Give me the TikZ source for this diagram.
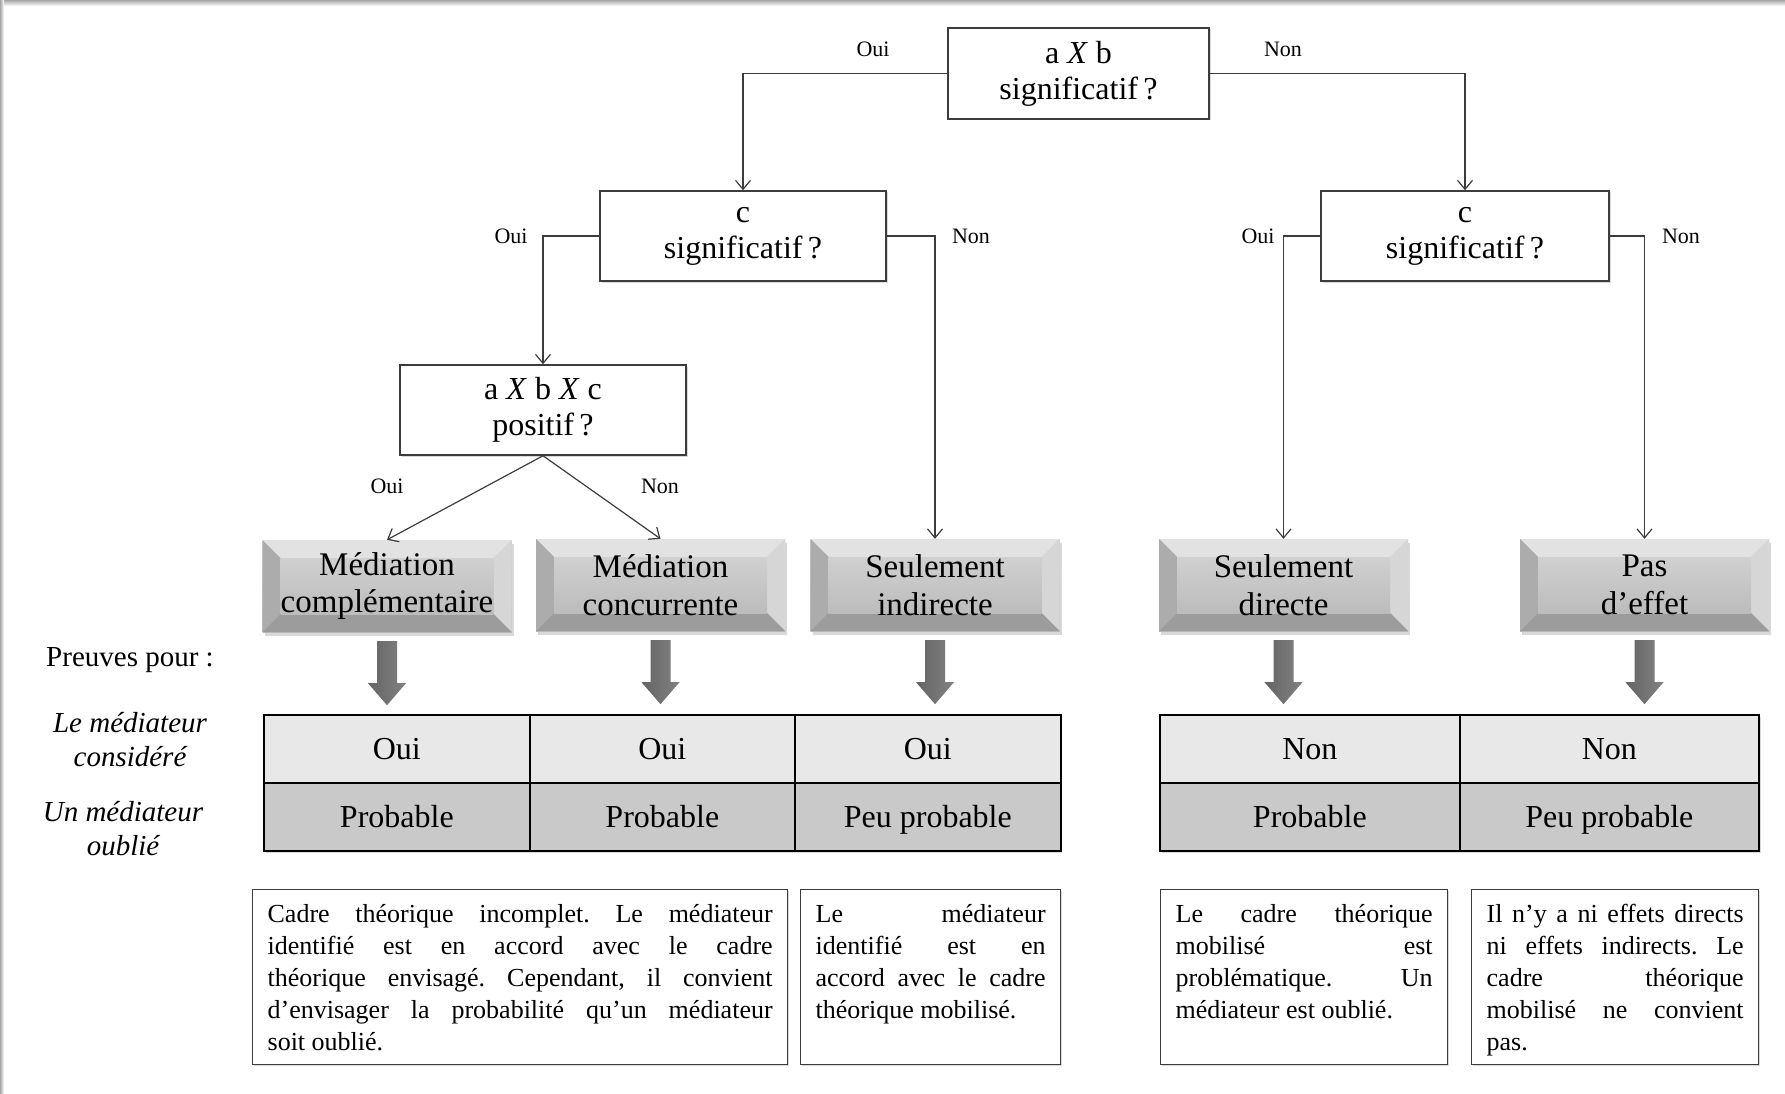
\documentclass[tikz,border=0pt]{standalone}
\usepackage{fontspec}
\setmainfont{Liberation Serif}
\usepackage{tikz}
\usetikzlibrary{arrows.meta,shadows}
\frenchspacing
\newlength{\questionwidth}
\newlength{\questionheight}
\newlength{\outcomewidth}
\newlength{\outcomeheight}
\newlength{\bevelsize}
\newlength{\cellwidth}
\newlength{\cellwidthwide}
\newlength{\cellheight}
\newlength{\noteheight}
\setlength{\questionwidth}{286pt}
\setlength{\questionheight}{90pt}
\setlength{\outcomewidth}{249pt}
\setlength{\outcomeheight}{92pt}
\setlength{\bevelsize}{18pt}
\setlength{\cellwidth}{265.5pt}
\setlength{\cellwidthwide}{299.5pt}
\setlength{\cellheight}{68pt}
\setlength{\noteheight}{145pt}
\definecolor{edgecolor}{RGB}{60,60,60}
\definecolor{facetop}{RGB}{208,208,208}
\definecolor{facebottom}{RGB}{188,188,188}
\definecolor{beveltop}{RGB}{226,226,226}
\definecolor{bevelleft}{RGB}{172,172,172}
\definecolor{bevelright}{RGB}{214,214,214}
\definecolor{bevelbottom}{RGB}{156,156,156}
\definecolor{arrowdark}{RGB}{100,100,100}
\definecolor{arrowmid}{RGB}{165,165,165}
\definecolor{arrowlight}{RGB}{130,130,130}
\definecolor{rowone}{RGB}{232,232,232}
\definecolor{rowtwo}{RGB}{201,201,201}
\newcommand{\questionfont}{\fontsize{32}{36}\selectfont}
\newcommand{\outcomefont}{\fontsize{33}{37.5}\selectfont}
\newcommand{\cellfont}{\fontsize{32}{36}\selectfont}
\newcommand{\yesnofont}{\fontsize{22}{26}\selectfont}
\newcommand{\sidefont}{\fontsize{29}{34}\selectfont}
\newcommand{\notefont}{\fontsize{26}{31.9}\selectfont}
\newcommand{\notetext}[2]{%
	\parbox[t][\noteheight][t]{#1}{\tolerance=10000\hbadness=10000\hyphenpenalty=10000 #2}%
}
\newcommand{\fatarrow}[1]{
	\shade[left color=arrowdark, middle color=arrowmid, right color=arrowlight] ([shift={(-10pt,-9pt)}]#1.south) -- ++(20pt,0pt) -- ++(0pt,-42pt) -- ++(9pt,0pt) -- ++(-19pt,-22pt) -- ++(-19pt,22pt) -- ++(9pt,0pt) -- cycle;
}
\tikzstyle{question} = [draw=edgecolor, line width=1.5pt, fill=white, minimum width=\questionwidth, minimum height=\questionheight, inner sep=0, align=center, font=\questionfont, drop shadow={shadow xshift=1.5pt, shadow yshift=-1.5pt, opacity=.3}]
\tikzstyle{outcome} = [minimum width=\outcomewidth, minimum height=\outcomeheight, inner sep=0, align=center, font=\outcomefont, top color=facetop, bottom color=facebottom, drop shadow={shadow xshift=2pt, shadow yshift=-4pt, opacity=.3},
	path picture={
		\fill[beveltop] (path picture bounding box.north west) -- (path picture bounding box.north east) -- ([shift={(-\bevelsize,-\bevelsize)}]path picture bounding box.north east) -- ([shift={(\bevelsize,-\bevelsize)}]path picture bounding box.north west) -- cycle;
		\fill[bevelleft] (path picture bounding box.north west) -- ([shift={(\bevelsize,-\bevelsize)}]path picture bounding box.north west) -- ([shift={(\bevelsize,\bevelsize)}]path picture bounding box.south west) -- (path picture bounding box.south west) -- cycle;
		\fill[bevelright] (path picture bounding box.north east) -- ([shift={(-\bevelsize,-\bevelsize)}]path picture bounding box.north east) -- ([shift={(-\bevelsize,\bevelsize)}]path picture bounding box.south east) -- (path picture bounding box.south east) -- cycle;
		\fill[bevelbottom] (path picture bounding box.south west) -- ([shift={(\bevelsize,\bevelsize)}]path picture bounding box.south west) -- ([shift={(-\bevelsize,\bevelsize)}]path picture bounding box.south east) -- (path picture bounding box.south east) -- cycle;
		\shade[top color=facetop, bottom color=facebottom] ([shift={(\bevelsize,-\bevelsize)}]path picture bounding box.north west) rectangle ([shift={(-\bevelsize,\bevelsize)}]path picture bounding box.south east);
	}]
\tikzstyle{connector} = [draw=edgecolor, line width=1.2pt, -{Straight Barb[length=9pt,width=15pt]}]
\tikzstyle{yesno} = [font=\yesnofont, inner sep=0]
\tikzstyle{cell} = [draw=black, line width=2.2pt, minimum height=\cellheight, text height=25pt, text depth=5pt, inner sep=0, anchor=north west, font=\cellfont, drop shadow={shadow xshift=1.5pt, shadow yshift=-1.5pt, opacity=.3}]
\tikzstyle{cellone} = [cell, fill=rowone]
\tikzstyle{celltwo} = [cell, fill=rowtwo]
\tikzstyle{note} = [draw=edgecolor, line width=1.3pt, fill=white, inner xsep=15pt, inner ysep=15pt, anchor=north west, font=\notefont, drop shadow={shadow xshift=1.5pt, shadow yshift=-1.5pt, opacity=.3}]

\begin{document}
\begin{tikzpicture}[x=1pt, y=-1pt]
	
	\useasboundingbox (0,0) rectangle (1785,1094);
	\shade[top color=black!35, bottom color=white] (0,0) rectangle (1785,6);
	\shade[left color=black!35, right color=white] (0,0) rectangle (4,1094);
	
	% questions
	\node[question, minimum width=261pt, minimum height=91pt] (abtest) at (1078.5,73.5) {a \textit{X} b\\significatif\,?};
	\node[question] (cleft) at (743,236) {c\\significatif\,?};
	\node[question, minimum width=288pt] (cright) at (1465,236) {c\\significatif\,?};
	\node[question] (abctest) at (543,410) {a \textit{X} b \textit{X} c\\positif\,?};
	
	% outcomes
	\node[outcome] (compl) at (387,586) {Médiation\\complémentaire};
	\node[outcome] (concur) at (660.5,585) {Médiation\\concurrente};
	\node[outcome] (indir) at (935,585) {Seulement\\indirecte};
	\node[outcome] (direct) at (1283.5,585) {Seulement\\directe};
	\node[outcome] (noeff) at (1644.5,585) {Pas\\d’effet};
	
	\draw[connector] (abtest.west) -| (cleft.north);
	\draw[connector] (abtest.east) -| (cright.north);
	\draw[connector] (cleft.west) -| (abctest.north);
	\draw[connector] (cleft.east) -| (indir.north);
	\draw[connector] (cright.west) -| (direct.north);
	\draw[connector] (cright.east) -| (noeff.north);
	\draw[connector] (abctest.south) -- (compl.north);
	\draw[connector] (abctest.south) -- (concur.north);
	
	\node[yesno] (yes1) at (873,49) {Oui};
	\node[yesno] (no1) at (1283,49) {Non};
	\node[yesno] (yes2) at (511,236) {Oui};
	\node[yesno] (no2) at (971,236) {Non};
	\node[yesno] (yes3) at (1258,236) {Oui};
	\node[yesno] (no3) at (1681,236) {Non};
	\node[yesno] (yes4) at (387,486) {Oui};
	\node[yesno] (no4) at (660,486) {Non};
	
	\fatarrow{compl}
	\fatarrow{concur}
	\fatarrow{indir}
	\fatarrow{direct}
	\fatarrow{noeff}
	
	% evidence table
	\node[font=\sidefont] (proof) at (130,660) {Preuves pour :};
	\node[font=\sidefont\itshape, align=center] (considered) at (130,740) {Le médiateur\\considéré};
	\node[font=\sidefont\itshape, align=center] (forgotten) at (123,829) {Un médiateur\\oublié};
	
	\node[cellone, minimum width=\cellwidth] (cons1) at (263,714) {Oui};
	\node[cellone, minimum width=\cellwidth] (cons2) at (528.5,714) {Oui};
	\node[cellone, minimum width=\cellwidth] (cons3) at (794,714) {Oui};
	\node[celltwo, minimum width=\cellwidth] (forg1) at (263,782) {Probable};
	\node[celltwo, minimum width=\cellwidth] (forg2) at (528.5,782) {Probable};
	\node[celltwo, minimum width=\cellwidth] (forg3) at (794,782) {Peu probable};
	\node[cellone, minimum width=\cellwidthwide] (cons4) at (1159,714) {Non};
	\node[cellone, minimum width=\cellwidthwide] (cons5) at (1458.5,714) {Non};
	\node[celltwo, minimum width=\cellwidthwide] (forg4) at (1159,782) {Probable};
	\node[celltwo, minimum width=\cellwidthwide] (forg5) at (1458.5,782) {Peu probable};
	
	% comments
	\node[note] (note1) at (252,889) {\notetext{505pt}{Cadre théorique incomplet. Le médiateur\linebreak identifié est en accord avec le cadre\linebreak théorique envisagé. Cependant, il convient\linebreak d’envisager la probabilité qu’un médiateur\linebreak soit oublié.}};
	\node[note] (note2) at (800,889) {\notetext{230pt}{Le médiateur\linebreak identifié est en\linebreak accord avec le cadre\linebreak théorique mobilisé.}};
	\node[note] (note3) at (1160,889) {\notetext{257pt}{Le cadre théorique\linebreak mobilisé est\linebreak problématique. Un\linebreak médiateur est oublié.}};
	\node[note] (note4) at (1471,889) {\notetext{257pt}{Il n’y a ni effets directs\linebreak ni effets indirects. Le\linebreak cadre théorique\linebreak mobilisé ne convient\linebreak pas.}};
	
\end{tikzpicture}
\end{document}
